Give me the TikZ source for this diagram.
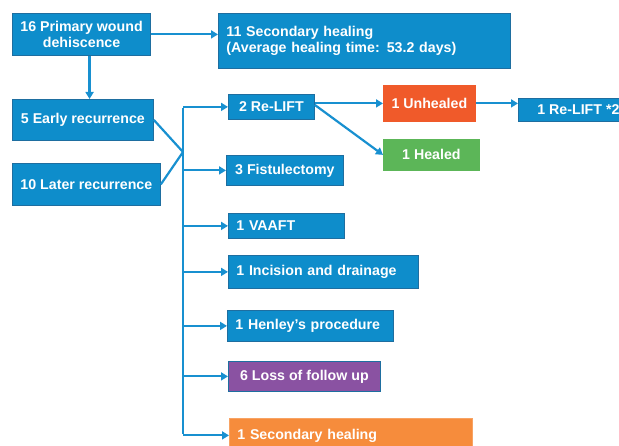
\documentclass[tikz,border=0pt]{standalone}
\usepackage{fontspec}
\setmainfont{Liberation Sans}
\usetikzlibrary{arrows.meta,calc}
\definecolor{bluefill}{RGB}{14,141,203}
\definecolor{boxedge}{RGB}{30,110,160}
\definecolor{linecol}{RGB}{24,144,208}
\definecolor{redfill}{RGB}{240,90,42}
\definecolor{greenfill}{RGB}{92,182,88}
\definecolor{purplefill}{RGB}{138,82,162}
\definecolor{orangefill}{RGB}{246,140,60}
\begin{document}
\begin{tikzpicture}[x=1pt,y=-1pt,
  box/.style={draw=boxedge, line width=0.8pt, fill=bluefill, text=white,
    font=\fontsize{14.2}{16.5}\selectfont\bfseries, inner xsep=8pt, inner ysep=0pt,
    anchor=north west},
  cbox/.style={box, align=center},
  lbox/.style={box, align=left},
  conn/.style={draw=linecol, line width=2.2pt},
  arr/.style={conn, -{Triangle[length=7pt,width=8pt]}},
]
\useasboundingbox (0,0) rectangle (619,446);

\node[cbox, minimum width=136pt, minimum height=42pt] (prim) at (12,13) {16 Primary wound\\dehiscence};
\node[lbox, text width=276pt, minimum height=55pt] (sec) at (218,13) {11 Secondary healing\\(Average healing time: 53.2 days)};
\node[cbox, minimum width=141pt, minimum height=41pt] (early) at (12,99) {5 Early recurrence};
\node[cbox, minimum width=148pt, minimum height=42pt] (later) at (12,163) {10 Later recurrence};

\node[cbox, minimum width=86pt, minimum height=25pt] (relift) at (228,94) {2 Re-LIFT};
\node[cbox, minimum width=117pt, minimum height=30pt] (fist) at (226,155) {3 Fistulectomy};
\node[lbox, text width=100pt, minimum height=25pt] (vaaft) at (228,213) {1 VAAFT};
\node[lbox, text width=174pt, minimum height=33pt] (inc) at (228,255) {1 Incision and drainage};
\node[lbox, text width=150pt, minimum height=31pt] (hen) at (227,310) {1 Henley’s procedure};
\node[cbox, minimum width=152pt, minimum height=30pt, fill=purplefill] (loss) at (228,361) {6 Loss of follow up};
\node[lbox, text width=227pt, minimum height=34pt, fill=orangefill, draw=orangefill!80!white] (sech) at (229,418) {1 Secondary healing};

\node[cbox, minimum width=92pt, minimum height=36pt, fill=redfill, draw=redfill] (unh) at (383,85) {1 Unhealed};
\node[cbox, minimum width=96pt, minimum height=31pt, fill=greenfill, draw=greenfill] (heal) at (383,139) {1 Healed};
\node[cbox, minimum width=120pt, minimum height=23pt] (relift2) at (518,98) {1 Re-LIFT *2};

\coordinate (J) at (183,152);

\draw[arr] (prim.east) -- (prim.east -| sec.west);
\draw[arr] ([xshift=8pt]prim.south) -- ([xshift=8pt]prim.south |- early.north);
\draw[conn] (early.east) -- (J);
\draw[conn] (later.east) -- (J);
\draw[conn] ([yshift=-1.1pt]relift.west -| J) -- ([yshift=1.1pt]sech.west -| J);
\foreach \n in {relift,fist,vaaft,inc,hen,loss,sech}
  \draw[arr] (\n.west -| J) -- (\n.west);
\draw[arr] (relift.east |- unh.west) -- (unh.west);
\draw[arr] ([yshift=2pt]relift.east) -- (heal.west);
\draw[arr] (unh.east) -- (unh.east -| relift2.west);
\end{tikzpicture}
\end{document}
